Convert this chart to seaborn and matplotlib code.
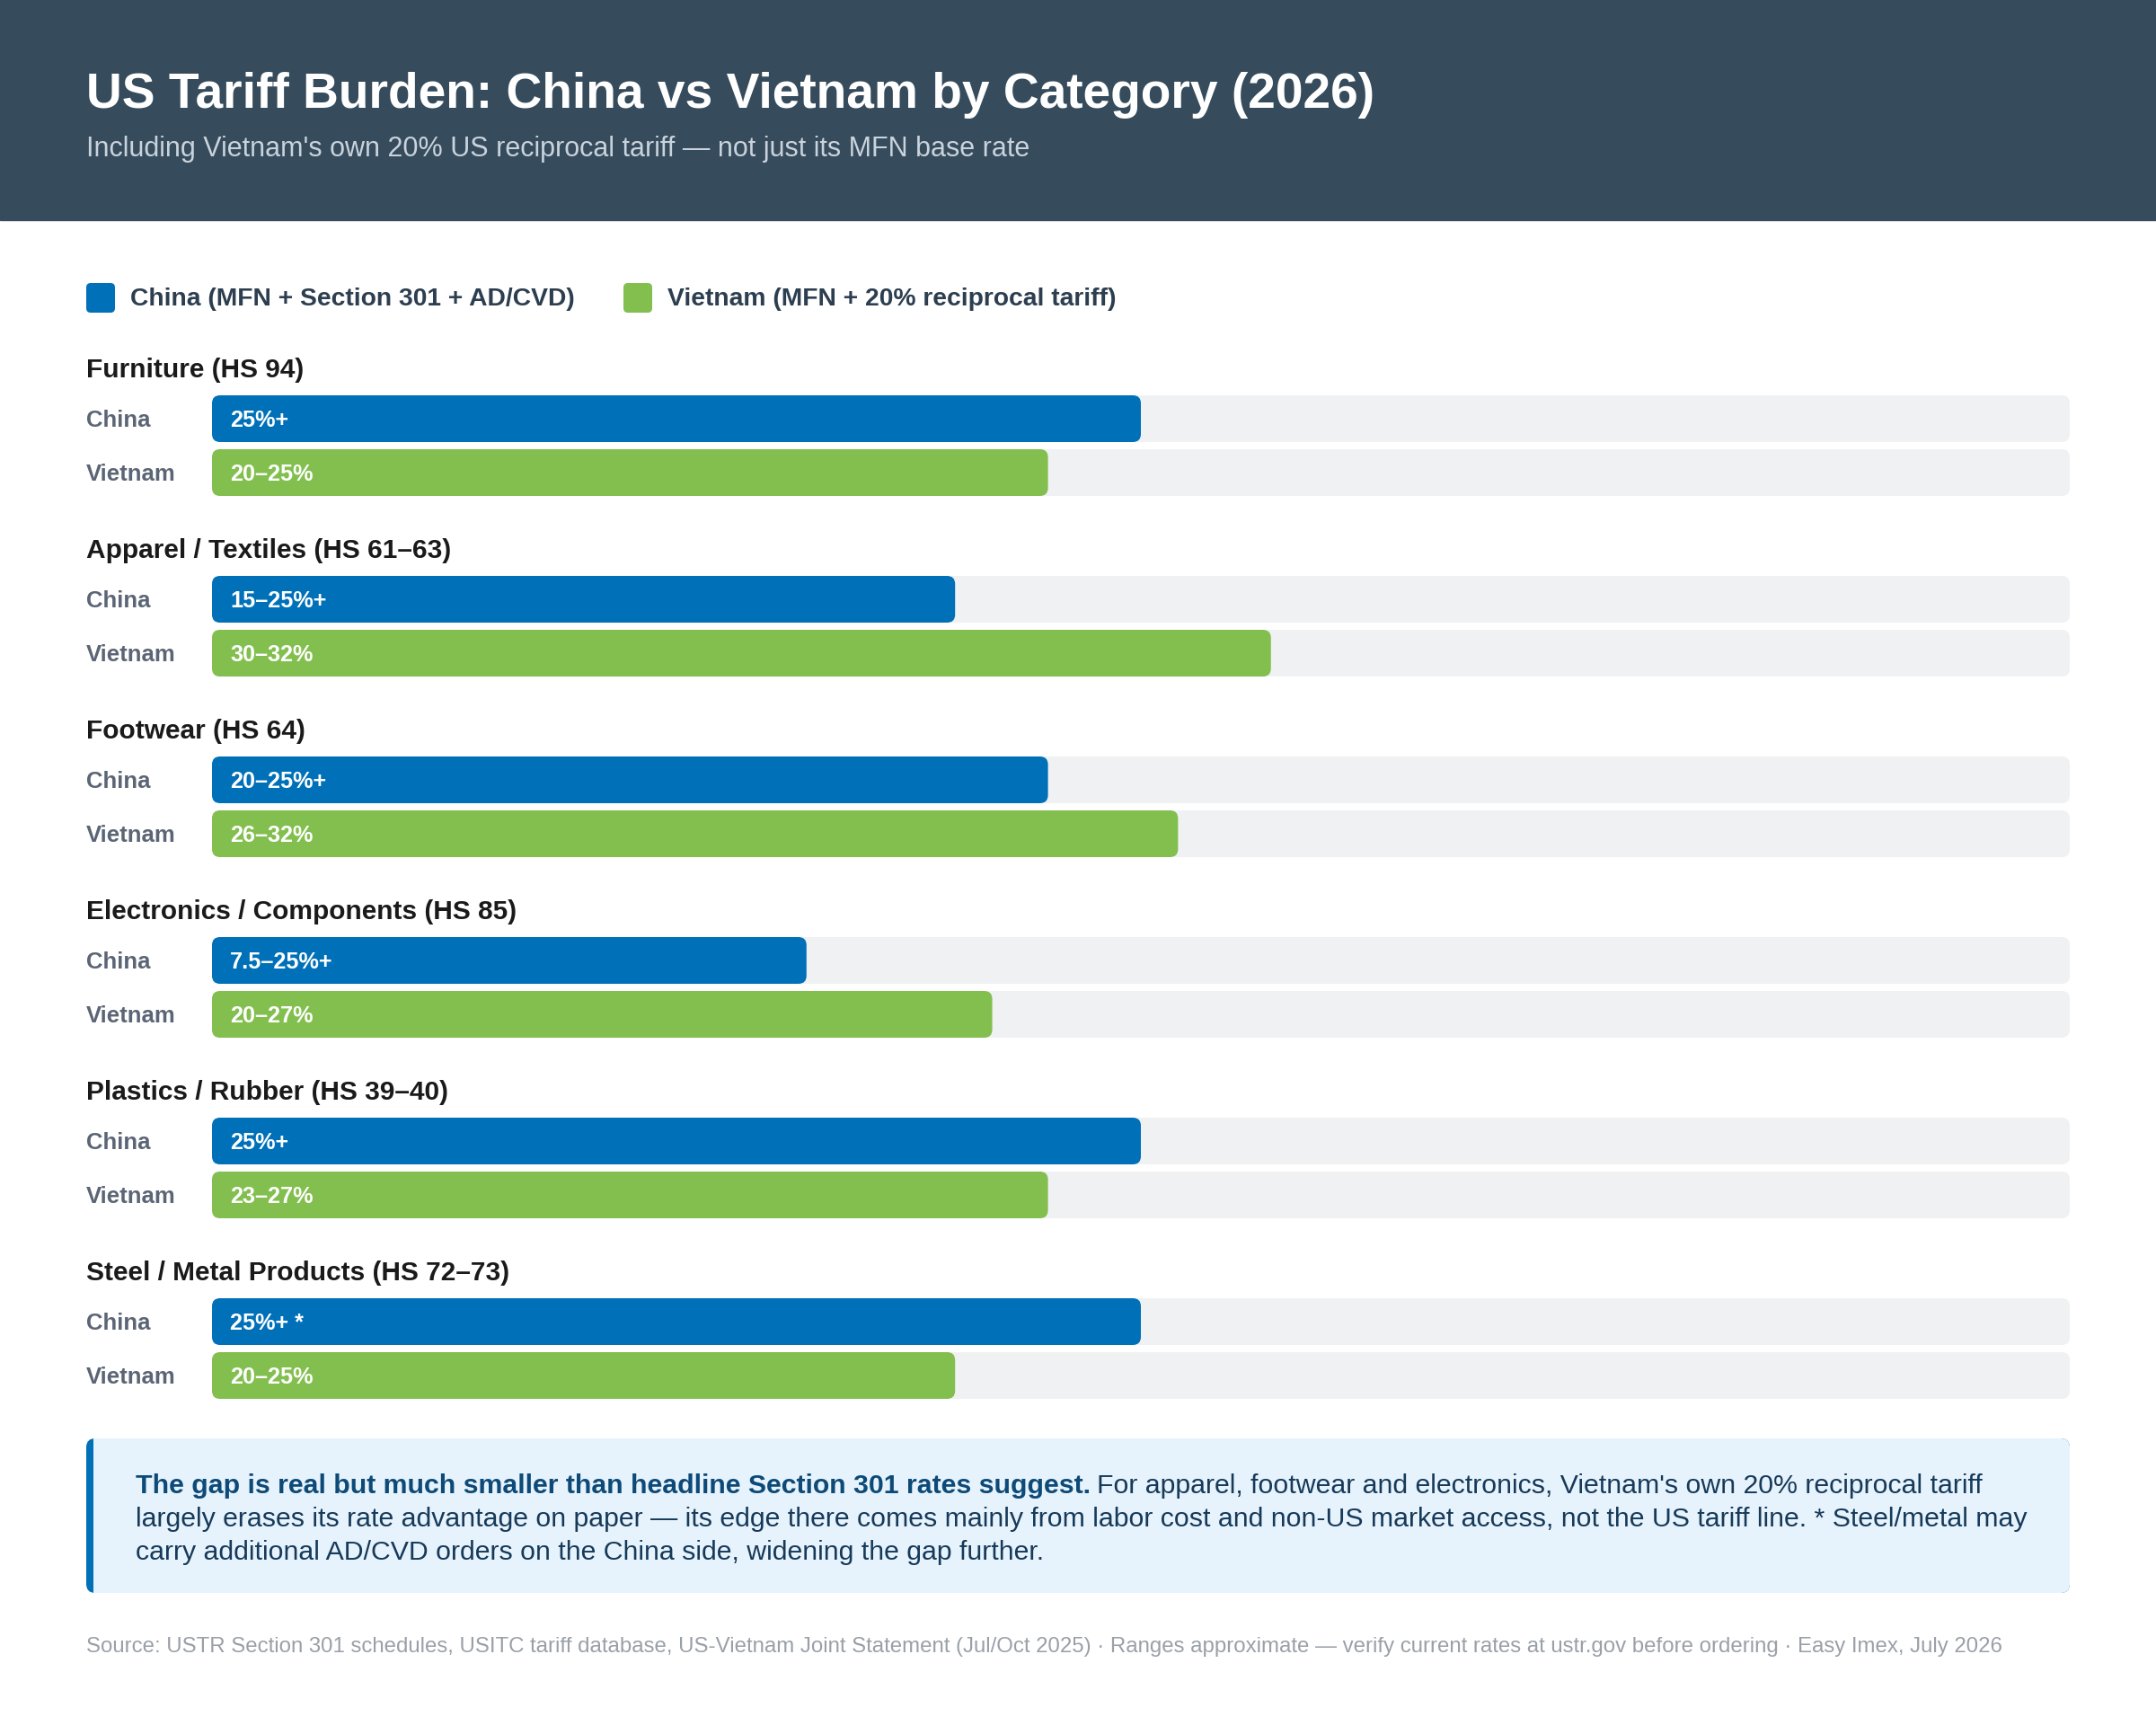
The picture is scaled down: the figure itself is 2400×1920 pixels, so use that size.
import pandas as pd
import seaborn as sns
import matplotlib.pyplot as plt
from matplotlib.patches import FancyBboxPatch, Rectangle

# -----------------------------
# Data
# -----------------------------
categories = [
    "Furniture (HS 94)",
    "Apparel / Textiles (HS 61–63)",
    "Footwear (HS 64)",
    "Electronics / Components (HS 85)",
    "Plastics / Rubber (HS 39–40)",
    "Steel / Metal Products (HS 72–73)",
]
china_labels = ["25%+", "15–25%+", "20–25%+", "7.5–25%+", "25%+", "25%+ *"]
vietnam_labels = ["20–25%", "30–32%", "26–32%", "20–27%", "23–27%", "20–25%"]
# bar length as % of the track
china_width = [50, 40, 45, 32, 50, 50]
vietnam_width = [45, 57, 52, 42, 45, 40]

legend_labels = ["China (MFN + Section 301 + AD/CVD)", "Vietnam (MFN + 20% reciprocal tariff)"]

# -----------------------------
# Style
# -----------------------------
BLUE = "#0070b8"
GREEN = "#82bf4e"
TRACK = "#f0f1f3"
HEADER = "#364b5c"

sns.set_style("white")
plt.rcParams["font.family"] = ["Liberation Sans", "DejaVu Sans"]

W, H = 2400, 1920
fig = plt.figure(figsize=(24, 19.2), dpi=100)
fig.patch.set_facecolor("white")

# background axes in pixel coordinates
bg = fig.add_axes([0, 0, 1, 1])
bg.set_xlim(0, W)
bg.set_ylim(H, 0)
bg.axis("off")

# header
bg.add_patch(Rectangle((0, 0), W, 245, color=HEADER, zorder=0))
bg.text(96, 106, "US Tariff Burden: China vs Vietnam by Category (2026)",
        color="white", fontsize=39.7, fontweight="bold", va="center")
bg.text(96, 166, "Including Vietnam's own 20% US reciprocal tariff — not just its MFN base rate",
        color="#c9d3dc", fontsize=22, va="center")

# legend
for x0, lab, col in [(96, legend_labels[0], BLUE), (694, legend_labels[1], GREEN)]:
    bg.add_patch(FancyBboxPatch((x0, 315), 32, 33, boxstyle="round,pad=0,rounding_size=5",
                                color=col, lw=0))
    bg.text(x0 + 49, 333, lab, color="#2c3e50", fontsize=20.3, fontweight="bold", va="center")

# -----------------------------
# Bars
# -----------------------------
TOP = 409
STEP = 201
y_china = [TOP + STEP * i + 57 for i in range(len(categories))]
y_viet = [TOP + STEP * i + 117 for i in range(len(categories))]

df = pd.DataFrame({
    "y": y_china + y_viet,
    "width": china_width + vietnam_width,
    "country": ["China"] * len(categories) + ["Vietnam"] * len(categories),
    "label": china_labels + vietnam_labels,
})

X0, X1 = 236, 2304
ax = fig.add_axes([X0 / W, 0, (X1 - X0) / W, 1])
ax.patch.set_alpha(0)

track = df.assign(width=100)
sns.barplot(data=track, x="width", y="y", orient="y", native_scale=True,
            color=TRACK, saturation=1, width=52 / 60, errorbar=None, ax=ax)
sns.barplot(data=df, x="width", y="y", hue="country", orient="y", native_scale=True,
            palette={"China": BLUE, "Vietnam": GREEN}, saturation=1, dodge=False,
            legend=False, width=52 / 60, errorbar=None, ax=ax)
ax.set_xlim(0, 100)
ax.set_ylim(H, 0)
ax.axis("off")

# rounded corners
px_per_x = (X1 - X0) / 100
radius = 9
bars = list(ax.patches)
for p in bars:
    x, y, w, h = p.get_x(), p.get_y(), p.get_width(), p.get_height()
    fc = p.get_facecolor()
    p.remove()
    ax.add_patch(FancyBboxPatch((x, y), w, h,
                                boxstyle=f"round,pad=0,rounding_size={radius / px_per_x}",
                                mutation_aspect=px_per_x, facecolor=fc, lw=0))

for _, r in df.iterrows():
    ax.annotate(r["label"], xy=(0, r["y"]), xytext=(14.4, -1.5), textcoords="offset points",
                color="white", fontsize=18.2, fontweight="bold", va="center")

# category and row labels
for i, cat in enumerate(categories):
    bg.text(96, TOP + STEP * i + 3, cat, color="#1a1a1a", fontsize=21.5, fontweight="bold",
            va="center")
    bg.text(96, y_china[i] + 2, "China", color="#5b6575", fontsize=18.5, fontweight="bold",
            va="center")
    bg.text(96, y_viet[i] + 2, "Vietnam", color="#5b6575", fontsize=18.5, fontweight="bold",
            va="center")

# -----------------------------
# Note box
# -----------------------------
bg.add_patch(FancyBboxPatch((96, 1601), 2208, 172, boxstyle="round,pad=0,rounding_size=10",
                            color=BLUE, lw=0))
bg.add_patch(FancyBboxPatch((104, 1601), 2200, 172, boxstyle="round,pad=0,rounding_size=10",
                            color="#e7f3fc", lw=0))
bg.add_patch(Rectangle((104, 1601), 20, 172, color="#e7f3fc", lw=0))

bold = bg.text(151, 1662, "The gap is real but much smaller than headline Section 301 rates suggest.",
               color="#0d4a78", fontsize=21.8, fontweight="bold", va="baseline")
bg.annotate("For apparel, footwear and electronics, Vietnam's own 20% reciprocal tariff",
            xy=(1, 0), xycoords=bold, xytext=(5, 0), textcoords="offset points",
            color="#163a5a", fontsize=21.8, va="bottom")
bg.text(151, 1699, "largely erases its rate advantage on paper — its edge there comes mainly from labor "
        "cost and non-US market access, not the US tariff line. * Steel/metal may",
        color="#163a5a", fontsize=21.8, va="baseline")
bg.text(151, 1736, "carry additional AD/CVD orders on the China side, widening the gap further.",
        color="#163a5a", fontsize=21.8, va="baseline")

# source
bg.text(96, 1833, "Source: USTR Section 301 schedules, USITC tariff database, US-Vietnam Joint Statement "
        "(Jul/Oct 2025) · Ranges approximate — verify current rates at ustr.gov before ordering "
        "· Easy Imex, July 2026", color="#9aa0a8", fontsize=17.3, va="center")

fig.savefig("out.png", dpi=100)
